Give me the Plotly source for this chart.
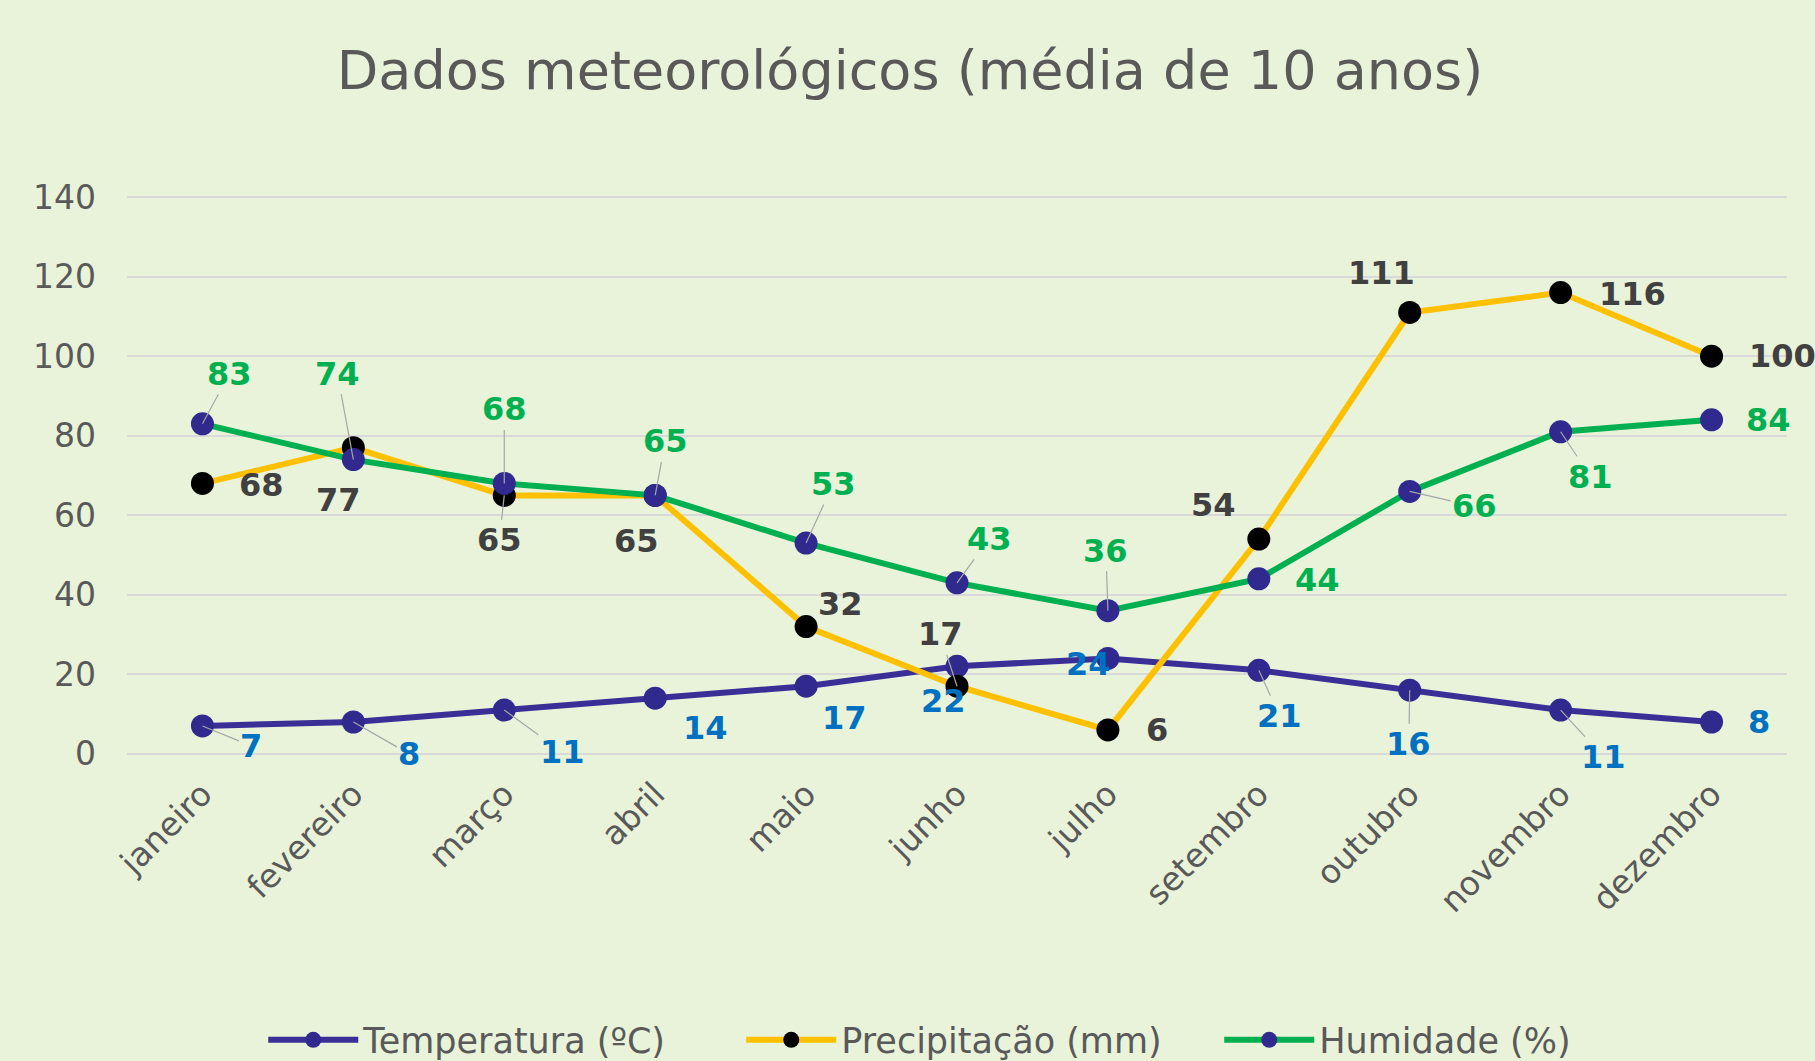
import plotly.graph_objects as go

# dados
months = ["janeiro", "fevereiro", "março", "abril", "maio", "junho",
          "julho", "setembro", "outubro", "novembro", "dezembro"]
temperatura = [7, 8, 11, 14, 17, 22, 24, 21, 16, 11, 8]
precipitacao = [68, 77, 65, 65, 32, 17, 6, 54, 111, 116, 100]
humidade = [83, 74, 68, 65, 53, 43, 36, 44, 66, 81, 84]

# label placement, px offset from the point (dx, dy down), leader line flag
temp_offsets = [(49, 20, 1), (56, 32, 1), (58, 42, 1), (50, 30, 0), (38, 32, 0), (-14, 35, 0),
                (-19, 6, 0), (21, 46, 1), (-1, 54, 1), (43, 47, 1), (47, 0, 0)]
prec_offsets = [(59, 2, 0), (-15, 52, 0), (-5, 45, 1), (-19, 46, 0), (34, -23, 0), (-17, -52, 1),
                (49, 0, 0), (-45, -34, 0), (-28, -39, 0), (72, 1, 0), (71, 0, 0)]
hum_offsets = [(27, -50, 1), (-16, -86, 1), (0, -74, 1), (10, -54, 1), (27, -59, 1), (32, -44, 1),
               (-2, -60, 1), (59, 1, 0), (65, 15, 1), (30, 45, 1), (57, 0, 0)]

BG = "#E8F3DA"
GREY = "#595959"
FONT = "DejaVu Sans"

fig = go.Figure()
fig.add_trace(go.Scatter(
    x=months, y=temperatura, name="Temperatura (ºC)", mode="lines+markers",
    line=dict(color="#3A2F96", width=6),
    marker=dict(color="#302A8E", size=23),
))
fig.add_trace(go.Scatter(
    x=months, y=precipitacao, name="Precipitação (mm)", mode="lines+markers",
    line=dict(color="#FFC000", width=6),
    marker=dict(color="#000000", size=23),
))
fig.add_trace(go.Scatter(
    x=months, y=humidade, name="Humidade (%)", mode="lines+markers",
    line=dict(color="#00B050", width=6),
    marker=dict(color="#302A8E", size=23),
))


def add_labels(values, offsets, color):
    for m, v, (dx, dy, leader) in zip(months, values, offsets):
        font = dict(family=FONT, size=32, color=color)
        if leader:
            fig.add_annotation(
                x=m, y=v, text=f"<b>{v}</b>", font=font,
                showarrow=True, arrowhead=0, arrowwidth=1.2,
                arrowcolor="#A6A6A6", ax=dx, ay=dy, standoff=0,
            )
        else:
            fig.add_annotation(
                x=m, y=v, text=f"<b>{v}</b>", font=font,
                showarrow=False, xshift=dx, yshift=-dy,
            )


add_labels(temperatura, temp_offsets, "#0070C0")
add_labels(precipitacao, prec_offsets, "#404040")
add_labels(humidade, hum_offsets, "#00B050")

fig.update_layout(
    width=1815, height=1061,
    paper_bgcolor=BG, plot_bgcolor=BG,
    margin=dict(l=127, r=28, t=196, b=306, autoexpand=False),
    font=dict(family=FONT, color=GREY),
    title=dict(
        text="Dados meteorológicos (média de 10 anos)",
        font=dict(family=FONT, size=54, color=GREY),
        x=910 / 1815, xanchor="center", y=1 - 70 / 1061, yanchor="middle",
    ),
    legend=dict(
        orientation="h", x=0.514, xanchor="center", y=-0.51, yanchor="middle",
        font=dict(family=FONT, size=35, color=GREY),
        entrywidth=373, itemwidth=90, bgcolor="rgba(0,0,0,0)",
    ),
    xaxis=dict(
        range=[-0.5, 10.5], tickangle=-45, tickfont=dict(size=33, color=GREY),
        showgrid=False, showline=False, zeroline=False, ticklabelstandoff=12,
    ),
    yaxis=dict(
        range=[-0.3, 140.3], tickvals=[0, 20, 40, 60, 80, 100, 120, 140],
        tickfont=dict(size=33, color=GREY),
        gridcolor="#D9D9D9", gridwidth=2, zeroline=False, showline=False,
        ticklabelstandoff=30,
    ),
)

fig.write_html(
    "out.html",
    config={"displayModeBar": False},
    post_script="document.body.style.margin='0';document.body.style.overflow='hidden';",
)
